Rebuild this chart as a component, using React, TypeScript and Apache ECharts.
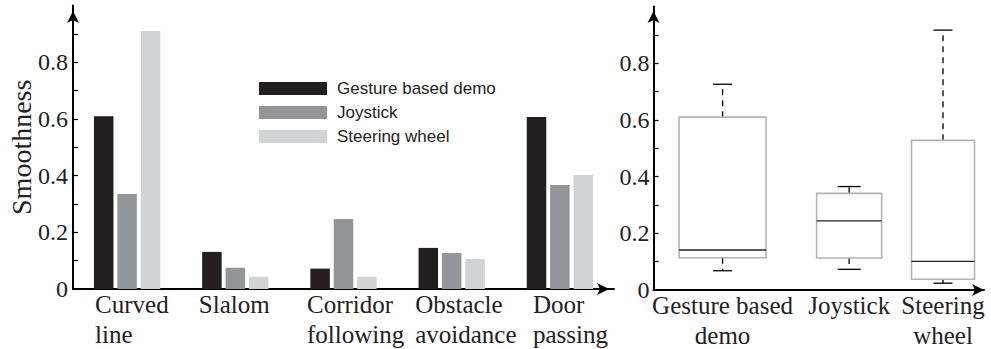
import React, { useEffect, useRef } from "react";
import * as echarts from "echarts";

// Smoothness per task for each control interface
const tasks = ["Curved\nline", "Slalom", "Corridor\nfollowing", "Obstacle\navoidance", "Door\npassing"];
const gestureDemo = [0.61, 0.131, 0.072, 0.145, 0.607];
const joystick = [0.335, 0.075, 0.247, 0.127, 0.367];
const steeringWheel = [0.91, 0.043, 0.043, 0.106, 0.402];
const seriesNames = ["Gesture based demo", "Joystick", "Steering wheel"];

// Distribution over all tasks: [lower whisker, Q1, median, Q3, upper whisker]
const interfaces = ["Gesture based\ndemo", "Joystick", "Steering\nwheel"];
const gestureBox = [0.068, 0.114, 0.141, 0.61, 0.726];
const joystickBox = [0.073, 0.113, 0.244, 0.341, 0.365];
const steeringBox = [0.024, 0.038, 0.101, 0.528, 0.917];

// Axis ticks
const yTickValues = [0.1, 0.2, 0.3, 0.4, 0.5, 0.6, 0.7, 0.8, 0.9];
const yLabelValues = [0, 0.2, 0.4, 0.6, 0.8];

// Box layout on the right panel (x in axis units, widths in px)
const boxCenters = [0.209, 0.592, 0.876];
const boxWidths = [87, 65, 63];
const capWidths = [19, 23, 19];
// Left-aligned task labels: width of the centred label block
const labelBlockWidths = [64, 73, 73, 73, 54];

const SERIF = "Liberation Serif";
const SANS = "Liberation Sans";
const COLORS = ["#231f20", "#939598", "#d1d3d4"];

const axisLine = (offsetEnd: number) => ({
  show: true,
  symbol: ["none", "arrow"],
  symbolSize: [9, 12],
  symbolOffset: [0, offsetEnd],
  lineStyle: { color: "#000", width: 2 },
});

const yAxisBase = (gridIndex: number, offsetEnd: number, margin: number) => ({
  type: "value",
  gridIndex,
  min: 0,
  max: 1,
  interval: 0.1,
  splitLine: { show: false },
  axisLine: axisLine(offsetEnd),
  axisTick: {
    show: true,
    inside: true,
    length: 5,
    customValues: yTickValues,
    lineStyle: { color: "#000", width: 1.2 },
  },
  axisLabel: {
    customValues: yLabelValues,
    formatter: (v: number) => (v === 0 ? "0" : v.toFixed(1)),
    fontFamily: SERIF,
    fontSize: 24,
    color: "#222",
    margin,
  },
});

export default function App() {
  const ref = useRef<HTMLDivElement>(null);

  useEffect(() => {
    if (!ref.current) return;
    const chart = echarts.init(ref.current, undefined, { renderer: "svg" });

    const rich: Record<string, any> = {};
    labelBlockWidths.forEach((w, i) => {
      rich["l" + i] = {
        width: w,
        align: "left",
        fontFamily: SERIF,
        fontSize: 25,
        lineHeight: 30,
        color: "#222",
      };
    });

    const boxData = [gestureBox, joystickBox, steeringBox].map((b, i) => [boxCenters[i], ...b]);

    const option: any = {
      animation: false,
      backgroundColor: "#ffffff",
      textStyle: { fontFamily: SERIF },
      grid: [
        { left: 73, top: 5.6, width: 541, height: 283.4, outerBoundsMode: "none", containLabel: false },
        { left: 653.5, top: 6.6, width: 330.5, height: 283.4, outerBoundsMode: "none", containLabel: false },
      ],
      legend: {
        left: 259,
        top: 80,
        orient: "vertical",
        padding: 0,
        itemWidth: 68,
        itemHeight: 13,
        itemGap: 7,
        icon: "rect",
        data: seriesNames,
        textStyle: {
          fontFamily: SANS,
          fontSize: 17,
          color: "#222",
          padding: [0, 0, 0, 5],
        },
      },
      xAxis: [
        {
          type: "category",
          gridIndex: 0,
          data: tasks,
          axisLine: axisLine(-5),
          axisTick: { show: false },
          axisLabel: {
            interval: 0,
            margin: 0,
            align: "center",
            fontFamily: SERIF,
            fontSize: 25,
            formatter: (v: string, i: number) =>
              v
                .split("\n")
                .map((s) => `{l${i}|${s}}`)
                .join("\n"),
            rich,
          },
        },
        {
          type: "value",
          gridIndex: 1,
          min: 0,
          max: 1,
          splitLine: { show: false },
          axisLine: axisLine(0),
          axisTick: { show: false },
          axisLabel: {
            customValues: boxCenters,
            margin: 0,
            fontFamily: SERIF,
            fontSize: 25,
            lineHeight: 30,
            color: "#222",
            formatter: (v: number) => {
              const i = boxCenters.findIndex((c) => Math.abs(c - v) < 1e-6);
              return i >= 0 ? interfaces[i] : "";
            },
          },
        },
      ],
      yAxis: [
        {
          ...yAxisBase(0, -5.4, 5),
          name: "Smoothness",
          nameLocation: "middle",
          nameRotate: 90,
          nameGap: 38,
          nameMoveOverlap: false,
          nameTextStyle: { fontFamily: SERIF, fontSize: 28, color: "#222" },
        },
        yAxisBase(1, -4.4, 4),
      ],
      series: [
        ...[gestureDemo, joystick, steeringWheel].map((d, k) => ({
          name: seriesNames[k],
          type: "bar",
          xAxisIndex: 0,
          yAxisIndex: 0,
          data: d,
          barWidth: 19.5,
          barGap: "20%",
          itemStyle: { color: COLORS[k] },
        })),
        {
          type: "custom",
          xAxisIndex: 1,
          yAxisIndex: 1,
          data: boxData,
          encode: { x: 0, y: [1, 2, 3, 4, 5] },
          renderItem: (params: any, api: any) => {
            const i = params.dataIndex;
            const x = api.value(0);
            const cx = api.coord([x, 0])[0];
            const yLo = api.coord([x, api.value(1)])[1];
            const yQ1 = api.coord([x, api.value(2)])[1];
            const yMed = api.coord([x, api.value(3)])[1];
            const yQ3 = api.coord([x, api.value(4)])[1];
            const yHi = api.coord([x, api.value(5)])[1];
            const hw = boxWidths[i] / 2;
            const cw = capWidths[i] / 2;
            const dashed = { stroke: "#000", lineWidth: 1.3, lineDash: [6, 5] };
            const solid = { stroke: "#000", lineWidth: 1.3 };
            return {
              type: "group",
              children: [
                { type: "line", shape: { x1: cx, y1: yQ3, x2: cx, y2: yHi }, style: dashed },
                { type: "line", shape: { x1: cx, y1: yQ1, x2: cx, y2: yLo }, style: dashed },
                { type: "line", shape: { x1: cx - cw, y1: yHi, x2: cx + cw, y2: yHi }, style: solid },
                { type: "line", shape: { x1: cx - cw, y1: yLo, x2: cx + cw, y2: yLo }, style: solid },
                {
                  type: "rect",
                  shape: { x: cx - hw, y: yQ3, width: hw * 2, height: yQ1 - yQ3 },
                  style: { fill: "none", stroke: "#b4b4b4", lineWidth: 1.6 },
                },
                {
                  type: "line",
                  shape: { x1: cx - hw, y1: yMed, x2: cx + hw, y2: yMed },
                  style: { stroke: "#222", lineWidth: 1.4 },
                },
              ],
            };
          },
        },
      ],
    };

    chart.setOption(option);
    return () => chart.dispose();
  }, []);

  return (
    <div
      ref={ref}
      style={{ position: "fixed", left: 0, top: 0, width: 991, height: 349, background: "#fff" }}
    />
  );
}
